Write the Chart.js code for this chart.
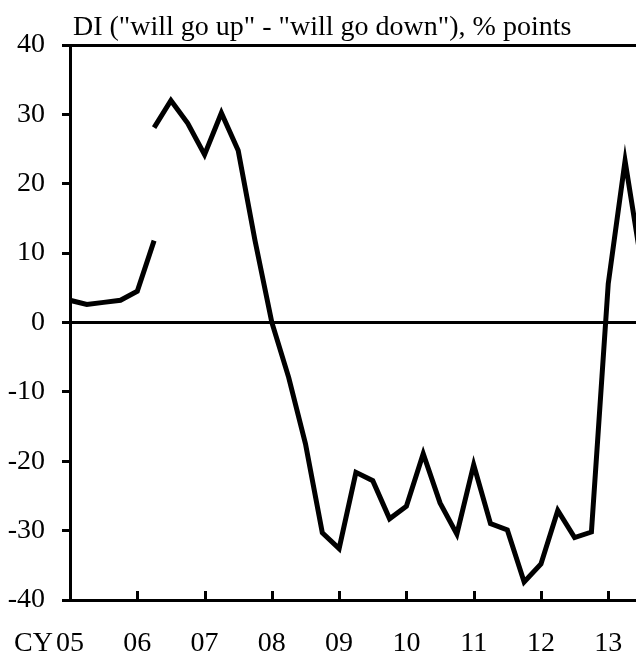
<!DOCTYPE html>
<html>
<head>
<meta charset="utf-8">
<script src="https://cdn.jsdelivr.net/npm/chart.js@4"></script>
<style>
  body { margin: 0; background: #fff; }
  canvas { display: block; }
</style>
</head>
<body>
<canvas id="diChart" width="636" height="652"></canvas>
<script>
// Year tick labels (one tick per Q1, quarterly data)
const yearLabels = ['05', '06', '07', '08', '09', '10', '11', '12', '13'];
const yTicks = [-40, -30, -20, -10, 0, 10, 20, 30, 40];

// Old survey basis: CY05 Q1 .. CY06 Q2
const oldSeries = [3.2, 2.6, 2.9, 3.2, 4.5, 11.8];
// New survey basis: CY06 Q2 .. CY13 Q3
const newStart = 5;
const newSeries = [28.1, 32.0, 28.7, 24.2, 30.2, 24.8, 11.8, 0.0, -7.9, -17.5,
                   -30.3, -32.6, -21.6, -22.8, -28.3, -26.5, -18.9, -26.0, -30.5, -20.5,
                   -29.0, -29.9, -37.4, -34.8, -27.1, -31.0, -30.2, 5.6, 23.3, 8.1];

const titleText = 'DI ("will go up" - "will go down"), % points';
const FONT = "'Liberation Serif', 'Times New Roman', serif";
const X_LABEL_PAD = 27;

// extras: title, the "CY" prefix and the inward year ticks
const extras = {
    id: 'extras',
    afterDatasetsDraw(chart) {
        const c = chart.ctx;
        const x = chart.scales.x;
        const area = chart.chartArea;
        c.save();
        c.strokeStyle = '#000';
        c.lineWidth = 3;
        for (let i = 1; i < yearLabels.length; i++) {
            const px = Math.round(x.getPixelForValue(i * 4)) + 0.5;
            c.beginPath();
            c.moveTo(px, area.bottom);
            c.lineTo(px, area.bottom - 9);
            c.stroke();
        }
        c.fillStyle = '#000';
        c.font = '28px ' + FONT;
        c.textBaseline = 'alphabetic';
        c.textAlign = 'left';
        c.fillText(titleText, 73, 35);

        // "CY" sits on the same line as the first year label
        const item = x.getLabelItems()[0];
        c.textAlign = 'right';
        c.textBaseline = item.options.textBaseline || 'middle';
        c.fillText('CY', 53, item.options.translation[1] + (item.textOffset || 0));
        c.restore();
    }
};

const ctx = document.getElementById('diChart').getContext('2d');
const diChart = new Chart(ctx, {
    type: 'line',
    data: {
        datasets: [{
            data: oldSeries.map((v, i) => ({ x: i, y: v })),
            borderColor: '#000',
            borderWidth: 5,
            pointRadius: 0,
            tension: 0
        }, {
            data: newSeries.map((v, i) => ({ x: i + newStart, y: v })),
            borderColor: '#000',
            borderWidth: 5,
            pointRadius: 0,
            tension: 0
        }]
    },
    options: {
        responsive: false,
        animation: false,
        layout: {
            padding: { top: 45, left: 0, right: 0, bottom: 0 }
        },
        plugins: {
            legend: { display: false },
            tooltip: { enabled: false }
        },
        scales: {
            x: {
                type: 'linear',
                min: 0,
                max: 33.65,
                afterFit: function(scale) {
                    scale.height = 52;
                    scale.paddingRight = 0;
                    scale.paddingLeft = 0;
                },
                grid: {
                    display: false,
                    drawTicks: false
                },
                border: {
                    display: true,
                    color: '#000',
                    width: 3
                },
                ticks: {
                    stepSize: 4,
                    includeBounds: false,
                    maxRotation: 0,
                    autoSkip: false,
                    padding: X_LABEL_PAD,
                    color: '#000',
                    font: { family: FONT, size: 28 },
                    callback: function(value) {
                        return yearLabels[value / 4];
                    }
                }
            },
            y: {
                min: -40,
                max: 40,
                afterFit: function(scale) { scale.width = 70; },
                afterBuildTicks: function(scale) {
                    scale.ticks = yTicks.map(v => ({ value: v }));
                },
                grid: {
                    drawTicks: true,
                    tickLength: 8,
                    lineWidth: 3,
                    tickColor: '#000',
                    color: function(c) {
                        const v = c.tick ? c.tick.value : null;
                        return (v === 0 || v === 40) ? '#000' : 'rgba(0,0,0,0)';
                    }
                },
                border: {
                    display: true,
                    color: '#000',
                    width: 3
                },
                ticks: {
                    padding: 17,
                    color: '#000',
                    font: { family: FONT, size: 28 }
                }
            }
        }
    },
    plugins: [extras]
});
</script>
</body>
</html>
